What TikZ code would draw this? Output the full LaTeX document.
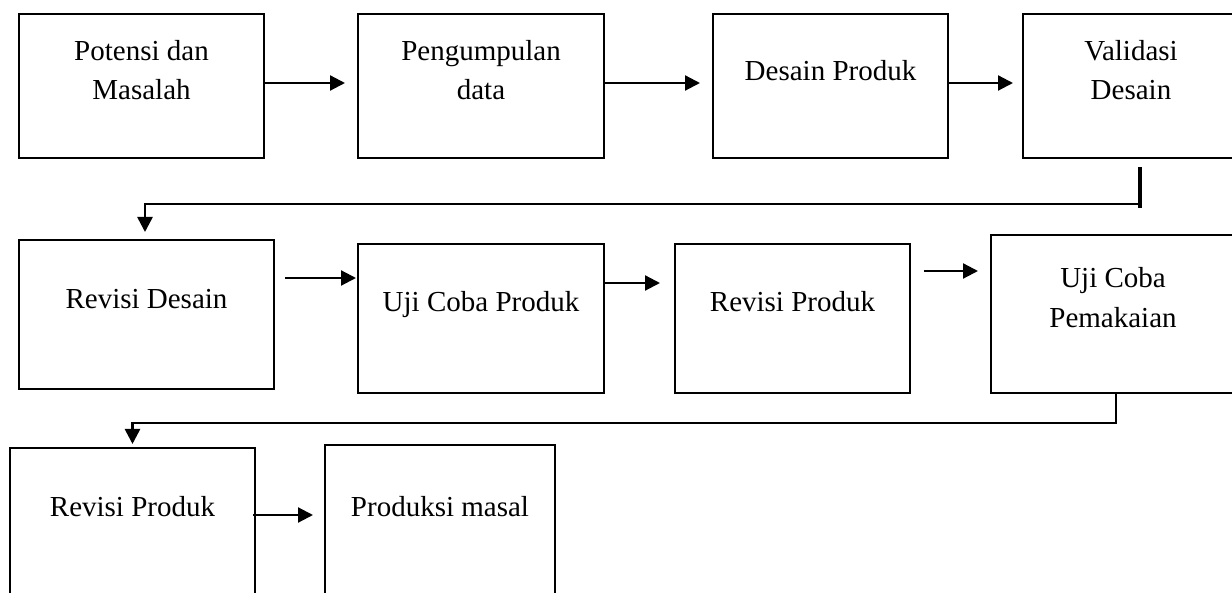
\documentclass[tikz,border=0pt]{standalone}
\usepackage{fontspec}
\setmainfont{Liberation Serif}
\usetikzlibrary{arrows.meta}
\begin{document}
\begin{tikzpicture}[x=1pt,y=1pt,
  box/.style={draw, line width=2pt, inner sep=0pt, anchor=north west},
  lbl/.style={inner sep=0pt, anchor=base, font=\fontsize{29}{40}\selectfont},
  tip/.style={-{Triangle[length=15pt,width=15pt]}},
  arr/.style={line width=2.2pt, tip},
  conn/.style={line width=2.6pt}]
\useasboundingbox (0,0) rectangle (1232,-593);
\fill[white] (0,0) rectangle (1232,-593);
\clip (0,0) rectangle (1232,-593);
% boxes
\node[box, minimum width=245pt, minimum height=144pt] (b1) at (18,-13) {};
\node[box, minimum width=246pt, minimum height=144pt] (b2) at (357,-13) {};
\node[box, minimum width=235pt, minimum height=144pt] (b3) at (712,-13) {};
\node[box, minimum width=218pt, minimum height=144pt] (b4) at (1022,-13) {};
\node[box, minimum width=255pt, minimum height=149pt] (b5) at (18,-239) {};
\node[box, minimum width=246pt, minimum height=149pt] (b6) at (357,-243) {};
\node[box, minimum width=235pt, minimum height=149pt] (b7) at (674,-243) {};
\node[box, minimum width=250pt, minimum height=158pt] (b8) at (990,-234) {};
\node[box, minimum width=245pt, minimum height=163pt] (b9) at (9,-447) {};
\node[box, minimum width=230pt, minimum height=166pt] (b10) at (324,-444) {};
% texts
\node[lbl] (t1a) at ([yshift=-48pt]b1.north) {Potensi dan};
\node[lbl] (t1b) at ([yshift=-87pt]b1.north) {Masalah};
\node[lbl] (t2a) at ([yshift=-48pt]b2.north) {Pengumpulan};
\node[lbl] (t2b) at ([yshift=-87pt]b2.north) {data};
\node[lbl] (t3) at ([yshift=-68pt]b3.north) {Desain Produk};
\node[lbl] (t4a) at ([xshift=-1pt,yshift=-48pt]b4.north) {Validasi};
\node[lbl] (t4b) at ([xshift=-1pt,yshift=-87pt]b4.north) {Desain};
\node[lbl] (t5) at ([yshift=-70pt]b5.north) {Revisi Desain};
\node[lbl] (t6) at ([yshift=-69pt]b6.north) {Uji Coba Produk};
\node[lbl] (t7) at ([yshift=-69pt]b7.north) {Revisi Produk};
\node[lbl] (t8a) at ([xshift=-3pt,yshift=-54pt]b8.north) {Uji Coba};
\node[lbl] (t8b) at ([xshift=-3pt,yshift=-94pt]b8.north) {Pemakaian};
\node[lbl] (t9) at ([yshift=-69pt]b9.north) {Revisi Produk};
\node[lbl] (t10) at ([yshift=-72pt]b10.north) {Produksi masal};
% row 1 arrows
\draw[arr] ([yshift=3pt]b1.east) -- ([xshift=-12pt,yshift=3pt]b2.west);
\draw[arr] ([yshift=3pt]b2.east) -- ([xshift=-12pt,yshift=3pt]b3.west);
\draw[arr] ([yshift=3pt]b3.east) -- ([xshift=-9pt,yshift=3pt]b4.west);
% row 2 arrows
\draw[arr] ([xshift=10pt,yshift=36.5pt]b5.east) -- ([xshift=-1pt,yshift=40.5pt]b6.west);
\draw[arr] ([yshift=35.5pt]b6.east) -- ([xshift=-14pt,yshift=35.5pt]b7.west);
\draw[arr] ([xshift=13pt,yshift=47.5pt]b7.east) -- ([xshift=-12pt,yshift=43pt]b8.west);
% row 3 arrow
\draw[arr] ([xshift=-3pt,yshift=14.5pt]b9.east) -- ([xshift=-11pt,yshift=13pt]b10.west);
% connector from Validasi Desain to Revisi Desain
\coordinate (c1) at ([xshift=8pt,yshift=-45pt]b4.south);
\draw[conn, line width=3.5pt] ([xshift=8pt,yshift=-8pt]b4.south) -- ([xshift=8pt,yshift=-49pt]b4.south);
\draw[conn, tip] (c1) -| ([xshift=-1.5pt,yshift=7pt]b5.north);
% connector from Uji Coba Pemakaian to Revisi Produk
\coordinate (c2) at ([yshift=-29pt]b8.south);
\draw[conn, tip] (b8.south) -- (c2) -| ([yshift=3pt]b9.north);
\end{tikzpicture}
\end{document}
